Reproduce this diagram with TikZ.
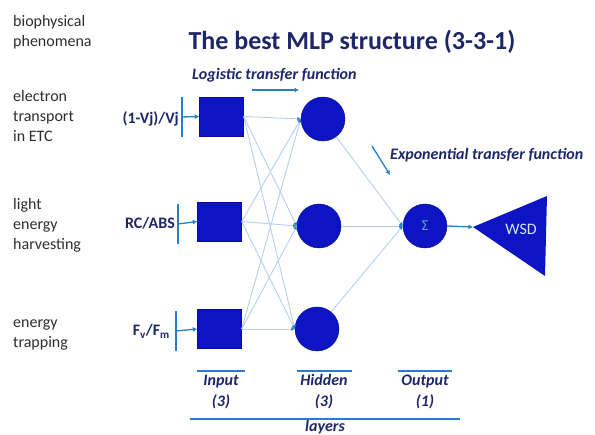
\documentclass[tikz,border=0pt]{standalone}
\usepackage{fontspec}
\setmainfont{Carlito}
\usetikzlibrary{arrows.meta}
\definecolor{nodeblue}{RGB}{12,20,195}
\definecolor{linkblue}{RGB}{180,208,234}
\definecolor{arrblue}{RGB}{40,125,200}
\definecolor{navy}{RGB}{28,38,105}
\definecolor{txtgray}{RGB}{45,45,45}
\begin{document}
\begin{tikzpicture}[x=1pt,y=-1pt,
  sidelbl/.style={font=\fontsize{16}{20}\selectfont, text=txtgray, anchor=base west, align=left, inner sep=0},
  inbox/.style={draw=nodeblue!75!black, fill=nodeblue, minimum width=44pt, minimum height=39pt, inner sep=0},
  neuron/.style={circle, draw=nodeblue!75!black, fill=nodeblue, minimum size=44pt, inner sep=0},
  link/.style={draw=linkblue, line width=0.9pt},
  linkarr/.style={link, -{Latex[length=3.5pt,width=4pt,color=arrblue]}},
  inlbl/.style={font=\bfseries\fontsize{16}{18}\selectfont, text=navy, anchor=base east, inner sep=0},
  ticks/.style={draw=arrblue, line width=1.3pt},
  inarrow/.style={draw=arrblue, line width=1.3pt, -{Latex[length=4.5pt,width=5pt]}},
  funclbl/.style={font=\bfseries\itshape\fontsize{16}{18}\selectfont, text=navy, anchor=base west, inner sep=0},
  layerlbl/.style={font=\bfseries\itshape\fontsize{16}{21}\selectfont, text=navy, align=center, anchor=base, inner sep=0},
  overl/.style={draw=arrblue, line width=1.6pt}
]
\useasboundingbox (0,0) rectangle (595,435);

% left labels (anchor = baseline of last line)
\node[sidelbl] (bio) at (13,47) {biophysical\\phenomena};
\node[sidelbl] (etc) at (13,142) {electron\\transport\\in ETC};
\node[sidelbl] (light) at (13,250) {light\\energy\\harvesting};
\node[sidelbl] (trap) at (13,348) {energy\\trapping};

% title
\node[font=\bfseries\fontsize{26}{30}\selectfont, text=navy, anchor=base, inner sep=0] (title) at (352,50) {The best MLP structure (3-3-1)};

% transfer function labels
\node[funclbl] (logi) at (192,80) {Logistic transfer function};
\coordinate (la1) at (252,90);
\coordinate (la2) at (299,90);
\draw[inarrow] (la1) -- (la2);
\node[funclbl] (expo) at (390,160) {Exponential transfer function};
\coordinate (ea1) at (372,146);
\coordinate (ea2) at (390,175);
\draw[inarrow] (ea1) -- (ea2);

% input layer
\node[inbox] (s1) at (221.5,116.5) {};
\node[inbox] (s2) at (219.5,221.5) {};
\node[inbox] (s3) at (219.5,329) {};

% ticks and input arrows
\coordinate (t1) at (182,117);
\coordinate (t2) at (178,224);
\coordinate (t3) at (176,331);
\foreach \t/\s in {t1/s1,t2/s2,t3/s3}{
  \draw[ticks] ([yshift=20pt]\t) -- ([yshift=-20pt]\t);
  \draw[inarrow] (\t) -- (\s.west);
}
\node[inlbl] (l1) at (179,124) {(1-Vj)/Vj};
\node[inlbl] (l2) at (175,229) {RC/ABS};
\node[inlbl] (l3) at (170,336) {F\textsubscript{v}/F\textsubscript{m}};

% hidden layer
\node[neuron] (h1) at (323,119) {};
\node[neuron] (h2) at (319,226) {};
\node[neuron] (h3) at (317,329) {};

% output
\node[neuron, font=\fontsize{15}{17}\selectfont, text=arrblue!70!white] (o) at (425,226) {Σ};

% connections
\foreach \s in {s1,s2,s3}{
  \foreach \h in {h1,h2,h3}{
    \draw[linkarr] (\s.east) -- (\h.west);
  }
}
\foreach \h in {h1,h2,h3}{
  \draw[linkarr] (\h) -- (o.west);
}

% WSD triangle
\coordinate (wtip) at (473,227);
\coordinate (wtop) at (547,196);
\coordinate (wbot) at (545,276);
\fill[nodeblue] (wtip) -- (wtop) -- (wbot) -- cycle;
\node[font=\fontsize{16}{18}\selectfont, text=white!80!arrblue, inner sep=0] (wsd) at (521,229) {WSD};
\draw[inarrow] (o.east) -- (wtip);

% layer labels
\coordinate (oi1) at (197,371); \coordinate (oi2) at (245,371);
\coordinate (oh1) at (297,371); \coordinate (oh2) at (352,371);
\coordinate (oo1) at (398,371); \coordinate (oo2) at (452,371);
\draw[overl] (oi1) -- (oi2);
\draw[overl] (oh1) -- (oh2);
\draw[overl] (oo1) -- (oo2);
\node[layerlbl] (inl) at (221,407) {Input\\(3)};
\node[layerlbl] (hidl) at (324,407) {Hidden\\(3)};
\node[layerlbl] (outl) at (425,407) {Output\\(1)};
\coordinate (ly1) at (190,419);
\coordinate (ly2) at (460,419);
\draw[overl] (ly1) -- (ly2);
\node[layerlbl] (lay) at (325,432) {layers};
\end{tikzpicture}
\end{document}
